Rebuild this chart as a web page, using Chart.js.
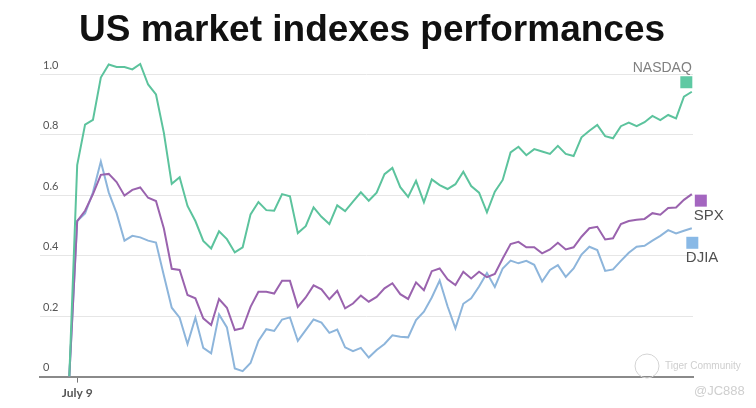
<!DOCTYPE html>
<html>
<head>
<meta charset="utf-8">
<script src="https://cdn.jsdelivr.net/npm/chart.js@4"></script>
<style>
  html, body { margin: 0; padding: 0; background: #fff; }
  #wrap { width: 756px; height: 408px; }
</style>
</head>
<body>
<div id="wrap"><canvas id="chart" width="756" height="408"></canvas></div>
<script>
// trading days since the base day (0 = base, 1 = July 9)
const seriesNames = ['NASDAQ', 'SPX', 'DJIA'];

const nasdaq = [0, 0.70, 0.834, 0.85, 0.99, 1.033, 1.025, 1.025, 1.017, 1.035,
  0.967, 0.934, 0.807, 0.638, 0.66, 0.565, 0.515, 0.449, 0.424, 0.481,
  0.455, 0.411, 0.428, 0.537, 0.578, 0.551, 0.549, 0.604, 0.597, 0.475,
  0.498, 0.56, 0.529, 0.505, 0.567, 0.548, 0.579, 0.61, 0.582, 0.609,
  0.67, 0.691, 0.627, 0.595, 0.648, 0.577, 0.653, 0.634, 0.621, 0.637,
  0.678, 0.631, 0.609, 0.544, 0.612, 0.651, 0.742, 0.761, 0.733, 0.753,
  0.745, 0.737, 0.764, 0.737, 0.730, 0.792, 0.814, 0.833, 0.796, 0.789,
  0.829, 0.841, 0.829, 0.842, 0.863, 0.849, 0.866, 0.855, 0.927, 0.943];

const spx = [0, 0.515, 0.549, 0.604, 0.668, 0.671, 0.644, 0.599, 0.618, 0.626,
  0.592, 0.581, 0.49, 0.357, 0.353, 0.27, 0.259, 0.193, 0.171, 0.257,
  0.228, 0.154, 0.16, 0.231, 0.281, 0.281, 0.275, 0.317, 0.317, 0.231,
  0.262, 0.302, 0.289, 0.256, 0.284, 0.226, 0.242, 0.268, 0.248, 0.264,
  0.292, 0.309, 0.273, 0.257, 0.312, 0.286, 0.349, 0.358, 0.322, 0.303,
  0.347, 0.325, 0.347, 0.329, 0.34, 0.391, 0.439, 0.446, 0.428, 0.428,
  0.408, 0.421, 0.443, 0.421, 0.428, 0.463, 0.491, 0.496, 0.454, 0.458,
  0.505, 0.515, 0.519, 0.522, 0.541, 0.536, 0.558, 0.56, 0.585, 0.604];

const djia = [0, 0.515, 0.54, 0.61, 0.712, 0.61, 0.541, 0.45, 0.466, 0.461,
  0.45, 0.444, 0.335, 0.228, 0.195, 0.108, 0.195, 0.095, 0.077, 0.206,
  0.163, 0.027, 0.018, 0.045, 0.118, 0.157, 0.151, 0.189, 0.196, 0.118,
  0.154, 0.189, 0.179, 0.145, 0.156, 0.097, 0.084, 0.095, 0.063, 0.088,
  0.108, 0.137, 0.132, 0.13, 0.187, 0.215, 0.262, 0.318, 0.233, 0.16,
  0.241, 0.259, 0.298, 0.343, 0.297, 0.358, 0.384, 0.375, 0.383, 0.37,
  0.315, 0.353, 0.369, 0.33, 0.358, 0.404, 0.43, 0.419, 0.35, 0.355,
  0.383, 0.41, 0.43, 0.433, 0.45, 0.466, 0.485, 0.474, 0.483, 0.491];

const yTicks = [0, 0.2, 0.4, 0.6, 0.8, 1.0];
const xTickDays = [1];
const xTickLabels = ['July 9'];

const chartTitle = 'US market indexes performances';

const lineColors = ['#5cc39d', '#9a63ae', '#8db5db'];
const boxColors = ['#5ec9a3', '#a466c0', '#89b9e6'];

// where the end-of-line tags sit relative to each line's last point
const tagStyle = [
  { box: [-5.5, -9.5], text: [0, -23.5], align: 'right', color: '#808080', size: 14 },
  { box: [9, 6.5], text: [2, 22], align: 'left', color: '#505050', size: 15 },
  { box: [0.5, 14.5], text: [-6, 29.5], align: 'left', color: '#505050', size: 15 }
];

const toPoints = arr => arr.map((v, i) => ({ x: i, y: v }));

// title is drawn by hand so it can sit a little right of the plot centre
const titleDraw = {
  id: 'titleDraw',
  afterDraw(chart) {
    const ctx = chart.ctx;
    ctx.save();
    ctx.fillStyle = '#111';
    ctx.font = "bold 37px 'Liberation Sans', sans-serif";
    ctx.textAlign = 'center';
    ctx.textBaseline = 'middle';
    ctx.fillText(chartTitle, 372, 31);
    ctx.restore();
  }
};

const endTags = {
  id: 'endTags',
  afterDatasetsDraw(chart) {
    const { ctx, scales: { x, y } } = chart;
    ctx.save();
    chart.data.datasets.forEach((ds, k) => {
      const last = ds.data[ds.data.length - 1];
      const px = x.getPixelForValue(last.x);
      const py = y.getPixelForValue(last.y);
      const st = tagStyle[k];
      ctx.fillStyle = boxColors[k];
      ctx.fillRect(px + st.box[0] - 6, py + st.box[1] - 6, 12, 12);
      ctx.fillStyle = st.color;
      ctx.font = st.size + "px 'Liberation Sans', sans-serif";
      ctx.textAlign = st.align;
      ctx.textBaseline = 'middle';
      ctx.fillText(ds.label, px + st.text[0], py + st.text[1]);
    });
    ctx.restore();
  }
};

const watermark = {
  id: 'watermark',
  afterDraw(chart) {
    const ctx = chart.ctx;
    ctx.save();
    ctx.strokeStyle = '#d4d4d4';
    ctx.lineWidth = 1;
    ctx.beginPath();
    ctx.arc(647, 366, 12, 0, Math.PI * 2);
    ctx.stroke();
    ctx.fillStyle = '#cfcfcf';
    ctx.textBaseline = 'middle';
    ctx.textAlign = 'left';
    ctx.font = "10px 'Liberation Sans', sans-serif";
    ctx.fillText('Tiger Community', 665, 366);
    ctx.font = "13px 'Liberation Sans', sans-serif";
    ctx.fillText('@JC888', 694, 391);
    ctx.restore();
  }
};

new Chart(document.getElementById('chart'), {
  type: 'line',
  data: {
    datasets: seriesNames.map((name, k) => ({
      label: name,
      data: toPoints([nasdaq, spx, djia][k]),
      borderColor: lineColors[k],
      borderWidth: 2,
      pointRadius: 0,
      tension: 0,
      fill: false
    }))
  },
  options: {
    responsive: false,
    devicePixelRatio: 1,
    animation: false,
    layout: { padding: { left: 34, right: 63, top: 56.4, bottom: 5 } },
    plugins: {
      legend: { display: false },
      tooltip: { enabled: false },
      title: { display: false }
    },
    scales: {
      x: {
        type: 'linear',
        min: -3.72,
        max: 79.15,
        afterBuildTicks: scale => { scale.ticks = xTickDays.map(v => ({ value: v })); },
        ticks: {
          callback: v => xTickLabels[xTickDays.indexOf(v)] || '',
          color: '#555',
          padding: 3,
          font: { family: 'Lato', size: 12, weight: 'bold' },
          maxRotation: 0
        },
        grid: { drawOnChartArea: false, drawTicks: true, tickLength: 6, color: '#777' },
        border: { color: '#8a8a8a', width: 2 }
      },
      y: {
        min: 0,
        max: 1.06,
        afterBuildTicks: scale => { scale.ticks = yTicks.map(v => ({ value: v })); },
        ticks: {
          mirror: true,
          padding: 3,
          labelOffset: -9,
          color: '#555',
          font: { family: 'Lato', size: 11 },
          callback: v => (v === 0 ? '0' : v.toFixed(1))
        },
        grid: { color: '#e6e6e6', drawTicks: false },
        border: { display: false }
      }
    }
  },
  plugins: [titleDraw, endTags, watermark]
});
</script>
</body>
</html>
